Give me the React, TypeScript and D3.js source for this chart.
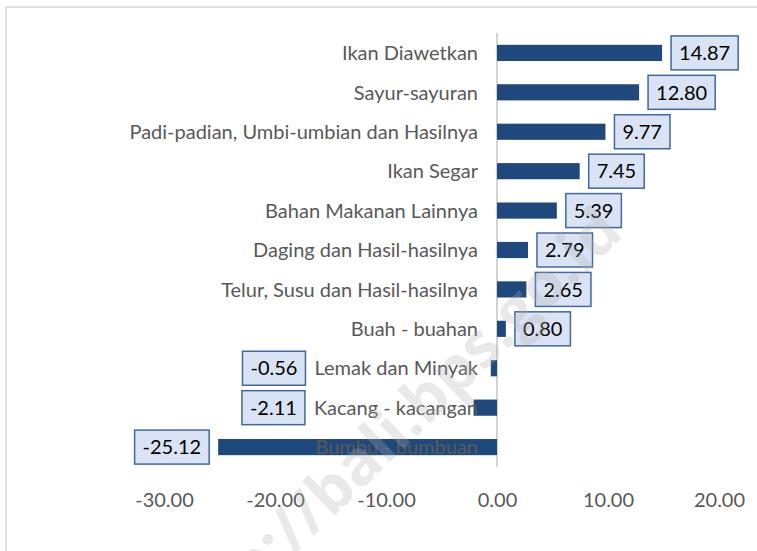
import React, { useEffect, useRef } from 'react'
import * as d3 from 'd3'

const categories = [
  'Ikan Diawetkan',
  'Sayur-sayuran',
  'Padi-padian, Umbi-umbian dan Hasilnya',
  'Ikan Segar',
  'Bahan Makanan Lainnya',
  'Daging dan Hasil-hasilnya',
  'Telur, Susu dan Hasil-hasilnya',
  'Buah - buahan',
  'Lemak dan Minyak',
  'Kacang - kacangan',
  'Bumbu - bumbuan',
]
const values = [14.87, 12.8, 9.77, 7.45, 5.39, 2.79, 2.65, 0.8, -0.56, -2.11, -25.12]
const tickValues = [-30, -20, -10, 0, 10, 20]

const W = 757
const H = 551
const FONT = 'Lato, "Open Sans", sans-serif'

// excel style numbers, plain hyphen for negatives
const fmt = (v: number) => d3.format('.2f')(v).replace('\u2212', '-')

const App: React.FC = () => {
  const svgRef = useRef<SVGSVGElement>(null)

  useEffect(() => {
    document.body.style.margin = '0'
    if (!svgRef.current) return
    const svg = d3.select(svgRef.current)
    svg.selectAll('*').remove()

    const x = d3.scaleLinear().domain([-30, 20]).range([164, 719])
    const y = d3.scaleBand<string>().domain(categories).range([33, 467]).paddingInner(0.59).paddingOuter(0.3)
    const x0 = x(0)

    // chart frame
    svg.append('rect')
      .attr('x', 6).attr('y', 7).attr('width', 820).attr('height', 600)
      .attr('fill', '#fff').attr('stroke', '#d9d9d9').attr('stroke-width', 1.5)

    // zero line
    svg.append('line')
      .attr('x1', x0).attr('x2', x0).attr('y1', 33).attr('y2', 467)
      .attr('stroke', '#d4d4d4').attr('stroke-width', 2)

    // bars
    svg.selectAll('rect.bar')
      .data(values)
      .enter().append('rect')
      .attr('class', 'bar')
      .attr('x', d => Math.min(x(d), x0))
      .attr('width', d => Math.abs(x(d) - x0))
      .attr('y', (d, i) => y(categories[i])!)
      .attr('height', y.bandwidth())
      .attr('fill', '#1f497d')

    // category labels, fixed to the left of zero
    const labelEnd = x0 - 19
    const labels = svg.selectAll('text.cat')
      .data(categories)
      .enter().append('text')
      .attr('class', 'cat')
      .attr('x', labelEnd)
      .attr('y', d => y(d)! + y.bandwidth() / 2)
      .attr('dy', '0.36em')
      .attr('text-anchor', 'end')
      .style('font-family', FONT)
      .style('font-size', '20px')
      .style('fill', '#595959')
      .text(d => d)

    const labelWidths: number[] = []
    labels.each(function () { labelWidths.push((this as SVGTextElement).getComputedTextLength()) })

    // value labels in boxes
    const boxH = 34
    const g = svg.selectAll('g.val')
      .data(values)
      .enter().append('g')
      .attr('class', 'val')

    g.each(function (d, i) {
      const sel = d3.select(this)
      const t = sel.append('text')
        .attr('dy', '0.36em')
        .attr('text-anchor', 'middle')
        .style('font-family', FONT)
        .style('font-size', '20px')
        .style('fill', '#000')
        .text(fmt(d))
      const tw = (t.node() as SVGTextElement).getComputedTextLength()
      const bw = tw + 16
      const cy = y(categories[i])! + y.bandwidth() / 2
      let left: number
      if (d >= 0) {
        left = x(d) + 9
      } else {
        const labelStart = labelEnd - labelWidths[i]
        left = Math.min(x(d), labelStart) - 9 - bw
      }
      sel.insert('rect', 'text')
        .attr('x', left).attr('y', cy - boxH / 2)
        .attr('width', bw).attr('height', boxH)
        .attr('fill', '#dae3f3').attr('stroke', '#41699f').attr('stroke-width', 1.5)
      t.attr('x', left + bw / 2).attr('y', cy)
    })

    // x axis
    const axis = svg.append('g')
      .attr('transform', 'translate(0,480)')
      .call(d3.axisBottom(x).tickValues(tickValues).tickFormat(d => fmt(+d)).tickSize(0))
    axis.select('.domain').remove()
    axis.selectAll('text')
      .attr('dy', 0).attr('y', 27)
      .style('font-family', FONT)
      .style('font-size', '20px')
      .style('fill', '#595959')

    // watermark
    svg.append('text')
      .attr('transform', 'translate(625,235) rotate(-44)')
      .attr('text-anchor', 'end')
      .style('font-family', '"Open Sans", sans-serif')
      .style('font-weight', 'bold')
      .style('font-size', '62px')
      .style('fill', '#b0b0b0')
      .style('fill-opacity', 0.28)
      .text('http://bali.bps.go.id')
  }, [])

  return <svg ref={svgRef} width={W} height={H} style={{ display: 'block' }} />
}

export default App
